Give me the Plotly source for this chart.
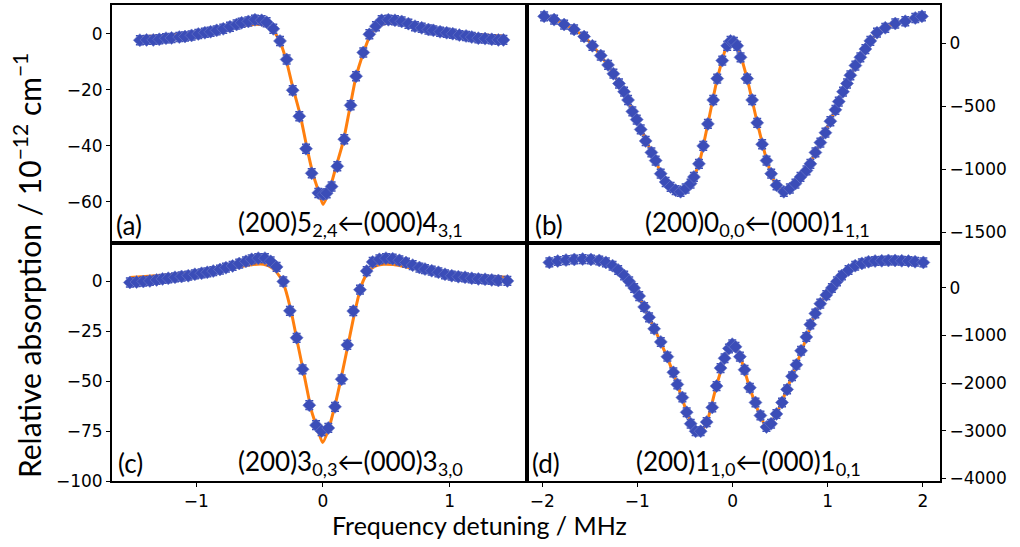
import plotly.graph_objects as go

W, H = 1020, 547

# ---------------- Panel (a) ----------------
a_x = [-1.445, -1.392, -1.339, -1.292, -1.239, -1.195, -1.134, -1.089, -1.037, -0.984,
       -0.932, -0.887, -0.839, -0.787, -0.734, -0.682, -0.642, -0.589, -0.537, -0.484,
       -0.445, -0.392, -0.339, -0.287, -0.239, -0.187, -0.134, -0.089, -0.037, 0.003,
       0.029, 0.068, 0.113, 0.168, 0.218, 0.261, 0.318, 0.366, 0.418, 0.463,
       0.516, 0.568, 0.621, 0.674, 0.726, 0.779, 0.832, 0.871, 0.924, 0.976,
       1.024, 1.076, 1.129, 1.174, 1.226, 1.279, 1.332, 1.384, 1.424]
a_y = [-2.3, -2.2, -2.2, -2.0, -1.6, -1.5, -1.2, -1.0, -0.6, -0.1,
       0.35, 0.7, 1.2, 1.75, 2.5, 3.3, 3.9, 4.4, 5.0, 4.8,
       4.1, 1.75, -2.6, -9.2, -20.2, -29.5, -41.1, -49.9, -56.9, -57.5,
       -57.0, -54.6, -47.4, -37.7, -25.6, -15.2, -6.7, -0.2, 2.7, 4.8,
       5.0, 4.8, 4.4, 3.6, 2.7, 2.1, 1.5, 1.2, 0.7, 0.35,
       0.0, -0.5, -0.8, -1.2, -1.6, -1.75, -2.0, -2.2, -2.2]
a_fit_x = [-1.445, -1.2, -1.0, -0.8, -0.65, -0.55, -0.47, -0.40, -0.34, -0.29,
           -0.24, -0.18, -0.13, -0.08, -0.03, 0.0, 0.05, 0.10, 0.16, 0.21,
           0.26, 0.32, 0.37, 0.42, 0.48, 0.55, 0.65, 0.8, 1.0, 1.2, 1.424]
a_fit_y = [-1.2, -0.5, 0.4, 1.6, 2.8, 3.3, 3.2, 1.5, -2.8, -9.5,
           -18.8, -29.0, -40.0, -50.0, -57.0, -61.0, -56.0, -48.0, -38.5, -27.0,
           -15.5, -6.7, -0.8, 2.1, 3.5, 3.9, 3.5, 2.1, 0.9, -0.2, -0.8]

# ---------------- Panel (b) ----------------
b_x = [-1.980, -1.875, -1.770, -1.665, -1.560, -1.473, -1.385, -1.308, -1.252, -1.193,
       -1.140, -1.098, -1.053, -1.007, -0.965, -0.913, -0.853, -0.808, -0.755, -0.703,
       -0.651, -0.598, -0.546, -0.493, -0.441, -0.406, -0.353, -0.308, -0.259, -0.203,
       -0.161, -0.108, -0.056, -0.021, 0.014, 0.049, 0.084, 0.154, 0.206, 0.259,
       0.311, 0.357, 0.406, 0.462, 0.539, 0.602, 0.661, 0.714, 0.777, 0.818,
       0.871, 0.923, 0.976, 1.028, 1.081, 1.116, 1.161, 1.203, 1.238, 1.291,
       1.343, 1.396, 1.448, 1.518, 1.605, 1.710, 1.815, 1.920, 1.990]
b_y = [216, 190, 151, 112, 55, -18, -96, -170, -240, -318,
       -383, -449, -540, -605, -683, -775, -866, -931, -1035, -1101,
       -1140, -1166, -1179, -1153, -1114, -1061, -957, -814, -639, -449,
       -279, -136, -18, 21, 13, -18, -110, -279, -449, -631,
       -801, -931, -1035, -1127, -1179, -1153, -1114, -1061, -1009, -957,
       -866, -788, -709, -618, -527, -462, -383, -318, -253, -175,
       -110, -44, 21, 86, 125, 159, 177, 203, 216]
b_fit_x = [-1.98, -1.77, -1.56, -1.385, -1.19, -1.01, -0.85, -0.70, -0.55, -0.44,
           -0.35, -0.26, -0.16, -0.06, 0.0, 0.05, 0.15, 0.26, 0.36, 0.46,
           0.55, 0.66, 0.78, 0.92, 1.08, 1.24, 1.40, 1.52, 1.71, 1.99]
b_fit_y = [225, 155, 55, -96, -318, -600, -866, -1100, -1185, -1110,
           -950, -640, -280, -20, 20, -20, -270, -630, -930, -1130,
           -1180, -1115, -1000, -790, -525, -253, -44, 86, 160, 220]

# ---------------- Panel (c) ----------------
c_x = [-1.524, -1.471, -1.418, -1.366, -1.313, -1.266, -1.221, -1.168, -1.116, -1.063,
       -1.011, -0.958, -0.913, -0.866, -0.813, -0.766, -0.713, -0.661, -0.608, -0.563,
       -0.511, -0.458, -0.413, -0.366, -0.313, -0.261, -0.208, -0.161, -0.108, -0.055,
       -0.011, 0.042, 0.095, 0.147, 0.192, 0.239, 0.292, 0.345, 0.392, 0.445,
       0.497, 0.550, 0.603, 0.655, 0.708, 0.761, 0.805, 0.858, 0.911, 0.963,
       1.016, 1.068, 1.121, 1.174, 1.226, 1.279, 1.332, 1.384, 1.455]
c_y = [-0.5, -0.3, 0.0, 0.3, 0.8, 1.3, 1.6, 2.1, 2.5, 2.9,
       3.6, 4.1, 4.6, 5.2, 6.0, 6.9, 7.8, 9.0, 10.1, 11.1,
       11.7, 11.7, 10.1, 7.3, 0.0, -14.7, -28.2, -44.0, -62.0, -72.0,
       -75.0, -73.4, -62.8, -49.0, -31.8, -14.8, -4.1, 5.2, 9.8, 11.1,
       11.7, 11.4, 10.6, 9.5, 8.2, 7.0, 6.2, 5.4, 4.6, 3.6,
       2.9, 2.4, 2.1, 1.6, 1.3, 1.1, 0.8, 0.5, 0.3]
c_fit_x = [-1.524, -1.2, -0.9, -0.7, -0.55, -0.47, -0.40, -0.34, -0.30, -0.247,
           -0.195, -0.142, -0.089, -0.037, -0.003, 0.042, 0.095, 0.147, 0.200, 0.253,
           0.305, 0.358, 0.411, 0.476, 0.555, 0.66, 0.87, 1.13, 1.455]
c_fit_y = [2.0, 3.4, 5.0, 6.9, 8.5, 8.6, 6.8, 2.4, -3.3, -16.3,
           -32.6, -48.9, -65.2, -75.0, -80.7, -74.4, -62.0, -47.3, -31.0, -14.7,
           -1.6, 4.9, 7.7, 8.6, 8.5, 7.3, 4.9, 3.3, 2.1]

# ---------------- Panel (d) ----------------
d_x = [-1.925, -1.837, -1.750, -1.663, -1.575, -1.488, -1.401, -1.331, -1.261, -1.202,
       -1.139, -1.086, -1.034, -0.981, -0.929, -0.877, -0.824, -0.754, -0.685, -0.622,
       -0.580, -0.527, -0.482, -0.440, -0.388, -0.335, -0.272, -0.213, -0.168, -0.126,
       -0.084, -0.038, -0.003, 0.031, 0.077, 0.126, 0.182, 0.241, 0.293, 0.356,
       0.405, 0.461, 0.520, 0.573, 0.625, 0.671, 0.720, 0.775, 0.817, 0.870,
       0.922, 0.985, 1.044, 1.097, 1.149, 1.219, 1.289, 1.359, 1.429, 1.498,
       1.568, 1.638, 1.708, 1.778, 1.848, 1.918, 2.005]
d_y = [536, 564, 584, 598, 605, 598, 577, 536, 467, 378,
       261, 137, 0, -172, -399, -618, -859, -1134, -1443, -1773,
       -2027, -2302, -2612, -2852, -3010, -3010, -2818, -2509, -2062, -1684,
       -1477, -1271, -1182, -1237, -1443, -1718, -2096, -2405, -2680, -2921,
       -2852, -2646, -2405, -2131, -1856, -1615, -1320, -1031, -770, -536,
       -330, -151, 0, 137, 261, 378, 467, 515, 550, 564,
       570, 577, 577, 570, 564, 550, 536]
d_fit_x = [-1.925, -1.75, -1.575, -1.40, -1.26, -1.14, -1.03, -0.93, -0.82, -0.69,
           -0.58, -0.48, -0.39, -0.33, -0.27, -0.17, -0.08, 0.0, 0.08, 0.18,
           0.29, 0.36, 0.46, 0.57, 0.67, 0.78, 0.87, 0.98, 1.10, 1.22,
           1.36, 1.57, 1.78, 2.005]
d_fit_y = [540, 590, 600, 575, 467, 261, 0, -399, -859, -1443,
           -2027, -2612, -3000, -3000, -2818, -2062, -1480, -1190, -1450, -2096,
           -2680, -2930, -2646, -2131, -1615, -1031, -536, -151, 137, 378,
           515, 570, 570, 540]

# error-bar half widths (per panel)
errs = [1.6, 35, 2.2, 90]

labels = ["(a)", "(b)", "(c)", "(d)"]
transitions = ["(200)5<sub>2,4</sub>←(000)4<sub>3,1</sub>",
               "(200)0<sub>0,0</sub>←(000)1<sub>1,1</sub>",
               "(200)3<sub>0,3</sub>←(000)3<sub>3,0</sub>",
               "(200)1<sub>1,0</sub>←(000)1<sub>0,1</sub>"]

y_ticks = [[0, -20, -40, -60],
           [0, -500, -1000, -1500],
           [0, -25, -50, -75, -100],
           [0, -1000, -2000, -3000, -4000]]
x_ticks_left = [-1, 0, 1]
x_ticks_right = [-2, -1, 0, 1, 2]

BLUE = "#3b4db8"
ORANGE = "#ff7f0e"

panels = [(a_x, a_y, a_fit_x, a_fit_y), (b_x, b_y, b_fit_x, b_fit_y),
          (c_x, c_y, c_fit_x, c_fit_y), (d_x, d_y, d_fit_x, d_fit_y)]

fig = go.Figure()
for i, (px, py, fx, fy) in enumerate(panels):
    xa = "x" if i == 0 else f"x{i+1}"
    ya = "y" if i == 0 else f"y{i+1}"
    fig.add_trace(go.Scatter(x=fx, y=fy, mode="lines",
                             line=dict(color=ORANGE, width=3, shape="spline", smoothing=0.6),
                             xaxis=xa, yaxis=ya, showlegend=False))
    fig.add_trace(go.Scatter(x=px, y=py, mode="markers",
                             marker=dict(symbol="diamond", size=10, color=BLUE,
                                         line=dict(width=0.6, color="#6a78c8")),
                             error_y=dict(type="constant", value=errs[i], color=BLUE, thickness=1.5, width=4),
                             xaxis=xa, yaxis=ya, showlegend=False))

# domains (pixel based)
xl = [112 / W, 527 / W]
xr = [527 / W, 940 / W]
yt = [1 - 247.5 / H, 1 - 5 / H]
yb = [1 - 490 / H, 1 - 247.5 / H]

tickfont = dict(family="DejaVu Sans", size=17, color="black")
common = dict(showline=True, mirror=True, linecolor="black", linewidth=2,
              showgrid=False, zeroline=False, ticklen=4,
              tickwidth=1, tickcolor="black", tickfont=tickfont)

fig.update_layout(
    width=W, height=H, margin=dict(l=0, r=0, t=0, b=0),
    paper_bgcolor="white", plot_bgcolor="white",
    font=dict(family="DejaVu Sans", color="black"),
    xaxis=dict(domain=xl, anchor="y", range=[-1.665, 1.61], tickvals=x_ticks_left,
               showticklabels=False, ticks="", **common),
    yaxis=dict(domain=yt, anchor="x", range=[-74.8, 10.3], tickvals=y_ticks[0], ticks="outside", **common),
    xaxis2=dict(domain=xr, anchor="y2", range=[-2.16, 2.18], tickvals=x_ticks_right,
                showticklabels=False, ticks="", **common),
    yaxis2=dict(domain=yt, anchor="x2", side="right", range=[-1586, 307], tickvals=y_ticks[1],
                ticks="outside", **common),
    xaxis3=dict(domain=xl, anchor="y3", range=[-1.665, 1.61], tickvals=x_ticks_left, ticks="outside", **common),
    yaxis3=dict(domain=yb, anchor="x3", range=[-100, 19.3], tickvals=y_ticks[2], ticks="outside", **common),
    xaxis4=dict(domain=xr, anchor="y4", range=[-2.16, 2.18], tickvals=x_ticks_right, ticks="outside", **common),
    yaxis4=dict(domain=yb, anchor="x4", side="right", range=[-4056, 944], tickvals=y_ticks[3],
                ticks="outside", **common),
)

labfont = dict(family="Lato", size=26, color="black")
label_pos = [(114, 229), (533, 229), (116, 472), (530, 472)]
trans_pos = [(350, 228), (757, 228), (350, 471), (748, 471)]
for i in range(4):
    lx, ly = label_pos[i]
    tx, ty = trans_pos[i]
    fig.add_annotation(x=lx / W, y=1 - ly / H, xref="paper", yref="paper", text=labels[i],
                       showarrow=False, xanchor="left", yanchor="middle", font=labfont)
    fig.add_annotation(x=tx / W, y=1 - ty / H, xref="paper", yref="paper", text=transitions[i],
                       showarrow=False, xanchor="center", yanchor="middle", font=labfont)

fig.add_annotation(x=479 / W, y=1 - 535 / H, xref="paper", yref="paper",
                   text="Frequency detuning / MHz", showarrow=False,
                   xanchor="center", yanchor="middle", font=dict(family="Lato", size=25, color="black"))
fig.add_annotation(x=27 / W, y=1 - 271 / H, xref="paper", yref="paper", textangle=-90,
                   text="Relative absorption / 10<sup>−12</sup> cm<sup>−1</sup>", showarrow=False,
                   xanchor="center", yanchor="middle", font=dict(family="Lato", size=30, color="black"))

fig.write_html("out.html", config={"displayModeBar": False},
               post_script="document.body.style.margin='0px';")
